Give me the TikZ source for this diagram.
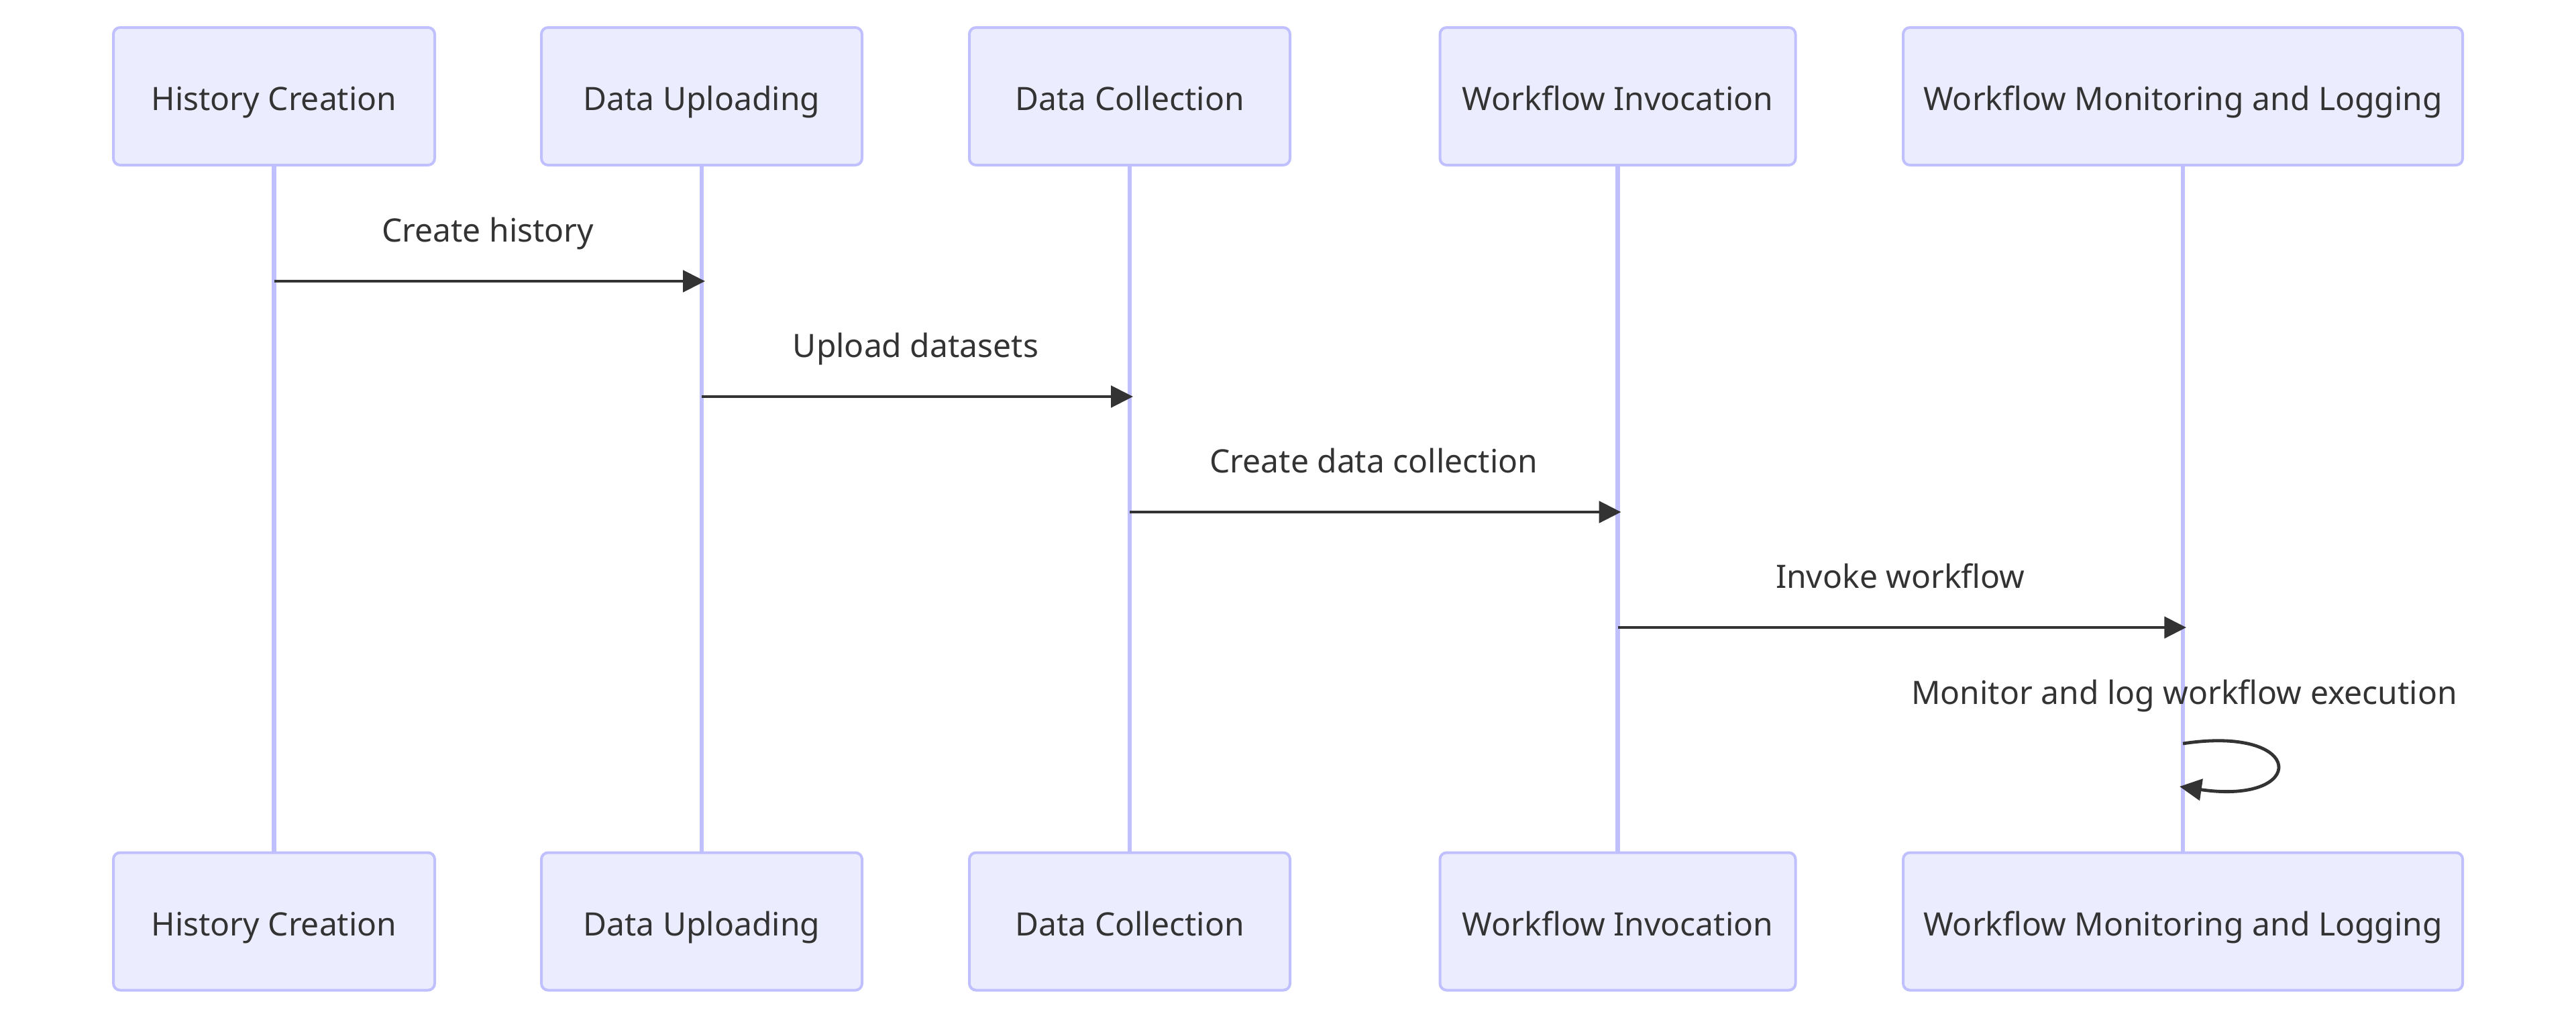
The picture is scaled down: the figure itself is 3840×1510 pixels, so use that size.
\documentclass[tikz,border=0pt]{standalone}
\usepackage{fontspec}
\setmainfont{Noto Sans}
\usetikzlibrary{arrows.meta}
\definecolor{actfill}{HTML}{ECECFF}
\definecolor{actline}{HTML}{C0C0FF}
\definecolor{txt}{HTML}{333333}
\tikzset{
  actor/.style={draw=actline, fill=actfill, line width=1pt, rounded corners=2.5pt,
    inner sep=0pt, minimum height=51.25pt, text=txt},
  lifeline/.style={draw=actline, line width=1.6pt},
  msg/.style={draw=txt, line width=1.2pt, -{Triangle[length=8.2pt,width=8pt]}},
  msgtext/.style={text=txt, font=\fontsize{12pt}{14.4pt}\selectfont, anchor=base, inner sep=0pt},
}
\begin{document}
\begin{tikzpicture}[x=0.25pt,y=-0.25pt]
\useasboundingbox (0,0) rectangle (3840,1510);
\fill[white] (0,0) rectangle (3840,1510);
% top actors
\node[actor, minimum width=119.75pt] (hcT) at (408.5,143.5) {};
\node[actor, minimum width=119.5pt] (duT) at (1046,143.5) {};
\node[actor, minimum width=119.5pt] (dcT) at (1684,143.5) {};
\node[actor, minimum width=132.5pt] (wiT) at (2411.5,143.5) {};
\node[actor, minimum width=208.5pt] (wmT) at (3254,143.5) {};
% bottom actors
\node[actor, minimum width=119.75pt] (hcB) at (408.5,1373) {};
\node[actor, minimum width=119.5pt] (duB) at (1046,1373) {};
\node[actor, minimum width=119.5pt] (dcB) at (1684,1373) {};
\node[actor, minimum width=132.5pt] (wiB) at (2411.5,1373) {};
\node[actor, minimum width=208.5pt] (wmB) at (3254,1373) {};
% actor labels
\foreach \n/\t in {hc/History Creation, du/Data Uploading, dc/Data Collection, wi/Workflow Invocation, wm/Workflow Monitoring and Logging}{
  \node[msgtext] (\n Tl) at (\n T.center |- 0,164) {\t};
  \node[msgtext] (\n Bl) at (\n B.center |- 0,1394) {\t};
}
% lifelines
\foreach \n in {hc,du,dc,wi,wm}{
  \draw[lifeline] (\n T.south) -- (\n B.north);
}
% messages
\coordinate (y1) at (0,419);
\coordinate (y2) at (0,591);
\coordinate (y3) at (0,763);
\coordinate (y4) at (0,935);
\draw[msg] (hcT.south |- y1) -- ([xshift=1.25pt]duT.south |- y1);
\node[msgtext] (t1) at (727.25,360) {Create history};
\draw[msg] (duT.south |- y2) -- ([xshift=1.25pt]dcT.south |- y2);
\node[msgtext] (t2) at (1365,532) {Upload datasets};
\draw[msg] (dcT.south |- y3) -- ([xshift=1.25pt]wiT.south |- y3);
\node[msgtext] (t3) at (2047.75,704) {Create data collection};
\draw[msg] (wiT.south |- y4) -- ([xshift=1.25pt]wmT.south |- y4);
\node[msgtext] (t4) at (2832.75,876) {Invoke workflow};
% self message
\coordinate (s1) at (3254,1108);
\coordinate (s2) at (3249,1172);
\draw[msg] (s1) .. controls (3440,1080) and (3440,1200) .. (s2);
\node[msgtext] (t5) at (3256,1049) {Monitor and log workflow execution};
\end{tikzpicture}
\end{document}
